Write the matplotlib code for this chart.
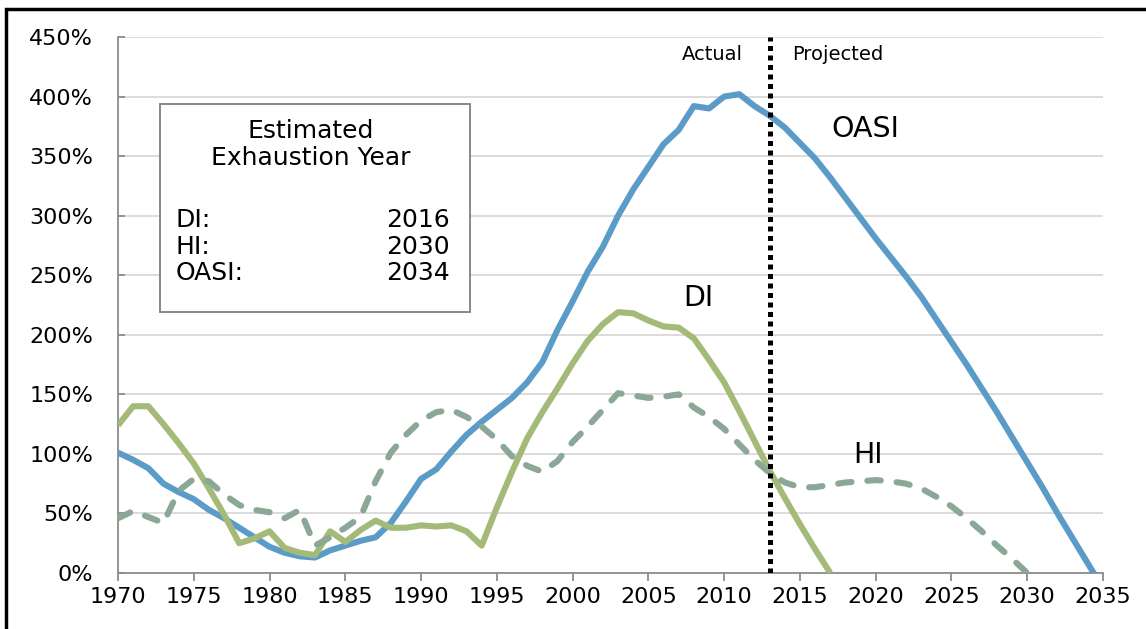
import matplotlib
matplotlib.use('Agg')
import matplotlib.pyplot as plt
from matplotlib.patches import Rectangle

# trust fund ratios (%)
oasi_years = list(range(1970, 2036))
oasi = [101, 95, 88, 75, 68, 62, 53, 46, 38, 30,
        22, 17, 14, 13, 19, 23, 27, 30, 42, 60,
        79, 87, 102, 116, 127, 137, 147, 160, 177, 204,
        228, 253, 274, 300, 322, 341, 360, 372, 392, 390,
        400, 402, 392, 384, 374, 361, 348, 332, 315, 298,
        281, 265, 249, 232, 213, 194, 175, 155, 135, 114,
        93, 72, 50, 29, 8, -13]

di_years = list(range(1970, 2018))
di = [124, 140, 140, 125, 109, 92, 71, 49, 25, 29,
      35, 21, 17, 15, 35, 26, 36, 44, 38, 38,
      40, 39, 40, 35, 23, 55, 85, 113, 135, 155,
      176, 195, 209, 219, 218, 212, 207, 206, 197, 179,
      160, 136, 111, 86, 63, 41, 20, 0]

hi_years = list(range(1970, 2031))
hi = [46, 52, 47, 42, 69, 79, 77, 66, 57, 53,
      51, 46, 53, 23, 30, 38, 47, 77, 101, 116,
      128, 135, 137, 131, 123, 112, 98, 90, 85, 94,
      110, 123, 137, 151, 149, 147, 148, 150, 139, 131,
      121, 108, 95, 84, 76, 72, 72, 74, 76, 77,
      78, 77, 75, 71, 64, 56, 46, 35, 23, 12, 0]

last_actual = 2013

box_funds = ['DI:', 'HI:', 'OASI:']
box_years = ['2016', '2030', '2034']

y_ticks = list(range(0, 451, 50))
x_ticks = list(range(1970, 2036, 5))

BLUE = '#5b9bc7'
GREEN = '#a3ba78'
GREY_GREEN = '#8ba897'
AXIS_GREY = '#8c8c8c'

plt.rcParams['font.family'] = ['DejaVu Sans']

fig = plt.figure(figsize=(11.46, 6.29), dpi=100)
W, H = 1146, 629
ax = fig.add_axes([118 / W, 1 - 573 / H, (1103 - 118) / W, (573 - 37) / H])

# series
ax.plot(oasi_years, oasi, color=BLUE, lw=4.4, solid_capstyle='butt', zorder=3)
ax.plot(di_years, di, color=GREEN, lw=4.4, solid_capstyle='butt', zorder=4)
ax.plot(hi_years, hi, color=GREY_GREEN, lw=4.4, dashes=(2.2, 2.6),
        dash_capstyle='round', zorder=5)

# actual / projected split
ax.axvline(last_actual, color='black', lw=3.6, linestyle=(0, (1, 0.9)), zorder=6)
ax.text(2011.25, 435, 'Actual', ha='right', va='center', fontsize=14)
ax.text(2014.5, 435, 'Projected', ha='left', va='center', fontsize=14)

# series names
ax.text(2019.3, 373, 'OASI', ha='center', va='center', fontsize=20.5)
ax.text(2008.3, 231, 'DI', ha='center', va='center', fontsize=20.5)
ax.text(2019.5, 99, 'HI', ha='center', va='center', fontsize=20.5)

# exhaustion year box
ax.add_patch(Rectangle((0.0426, 0.487), 0.3147, 0.388, transform=ax.transAxes,
                       facecolor='white', edgecolor='#7f7f7f', lw=1.3, zorder=7))
ax.text(0.196, 0.8116, 'Estimated', transform=ax.transAxes, ha='center',
        va='baseline', fontsize=18, zorder=8)
ax.text(0.196, 0.761, 'Exhaustion Year', transform=ax.transAxes, ha='center',
        va='baseline', fontsize=18, zorder=8)
for i, (fund, yr) in enumerate(zip(box_funds, box_years)):
    yb = 0.6455 - i * 0.0495
    ax.text(0.058, yb, fund, transform=ax.transAxes, ha='left', va='baseline',
            fontsize=18, zorder=8)
    ax.text(0.337, yb, yr, transform=ax.transAxes, ha='right', va='baseline',
            fontsize=18, zorder=8)

# axes
ax.set_xlim(1970, 2035)
ax.set_ylim(0, 450)
ax.set_xticks(x_ticks)
ax.set_yticks(y_ticks)
ax.set_yticklabels([f'{v}%' for v in y_ticks])
ax.grid(axis='y', color='#dcdcdc', lw=1.4, zorder=0)
ax.set_axisbelow(True)
for side in ['top', 'right']:
    ax.spines[side].set_visible(False)
for side in ['left', 'bottom']:
    ax.spines[side].set_color(AXIS_GREY)
    ax.spines[side].set_linewidth(1.3)
ax.tick_params(axis='x', direction='out', length=6, width=1.3, color=AXIS_GREY,
               labelsize=16, pad=4)
ax.tick_params(axis='y', direction='in', length=5, width=1.3, color=AXIS_GREY,
               labelsize=16, pad=18)

# outer frame of the original figure (right and bottom edges fall outside)
fig.add_artist(Rectangle((6 / W, -0.1), 1.2, 1 - 9 / H + 0.1, transform=fig.transFigure,
                         fill=False, edgecolor='black', lw=2.5))

fig.savefig('out.png', dpi=100)
